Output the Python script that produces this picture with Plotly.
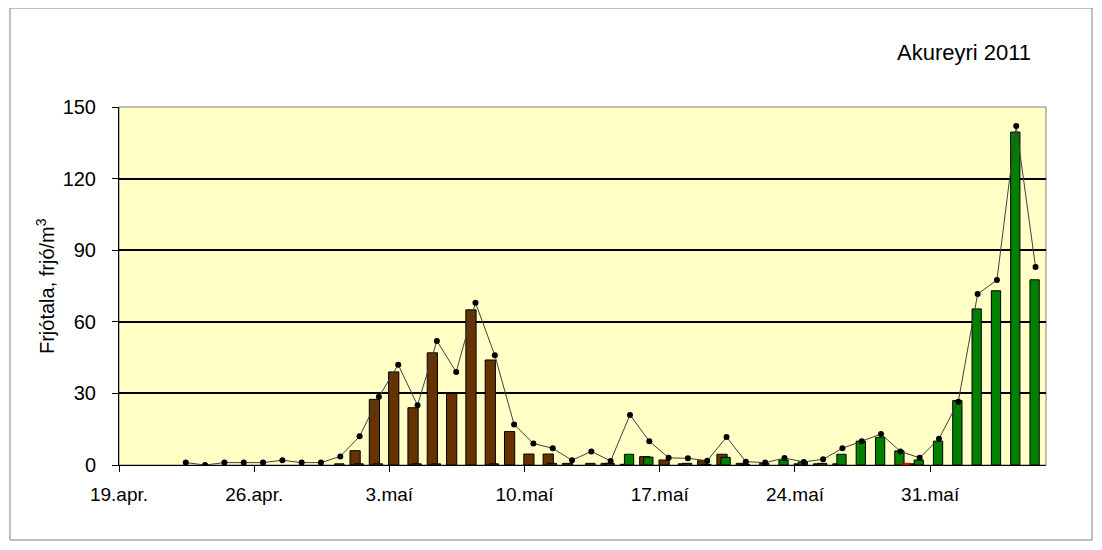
import pandas as pd
import plotly.graph_objects as go

# Days from 19 April to 5 June 2011
dates = pd.date_range("2011-04-19", "2011-06-05", freq="D")

# Birki (brown bars)
birch = [None] * 12 + [
         6, 27.5, 39, 24, 47, 30, 65, 44, 14, 4.6, 4.6, 0.7,
         None, 0.7, 0.3, 3.5, 2.1, 0.5, 1.8, 4.5, 0.7, None, None, 0.5,
         0.5, 0.5, None, None, None, 0.5, None, None, None, None, None, None]
# Grös (green bars)
grass = [None] * 11 + [0.5,
         0.5, 0.5, None, 0.5, 0.5, None, None, 0.5, None, None, 0.7, None,
         0.7, 0.7, 4.5, 3.3, None, 0.7, 0.3, 3.2, 0.3, 0.7, 2.1, 1.3,
         0.7, 4.5, 10, 11.6, 5.9, 2.1, 10, 27, 65.4, 73, 139.5, 77.6]
# Other (red bars)
other = [None] * 40 + [0.8] + [None] * 7
# Total (line)
total = [None, None, None, 1, 0, 1, 1, 1, 2, 1, 1, 3.6,
         12, 28.6, 42, 25, 52, 39, 68, 46, 17, 9, 7, 2,
         5.7, 1.7, 21, 10, 3, 2.8, 1.8, 11.7, 1.4, 1, 2.9, 1.3,
         2.4, 7, 10, 13, 5.7, 3, 11, 26.5, 71.6, 77.5, 142, 83]

tick_dates = ["2011-04-19", "2011-04-26", "2011-05-03", "2011-05-10",
              "2011-05-17", "2011-05-24", "2011-05-31"]
tick_labels = ["19.apr.", "26.apr.", "3.maí", "10.maí", "17.maí", "24.maí", "31.maí"]
y_ticks = [0, 30, 60, 90, 120, 150]

DAY = 86400000
FONT = "Liberation Sans, Arial, sans-serif"

fig = go.Figure()
fig.add_trace(go.Bar(x=dates, y=birch, offset=-0.04 * DAY, width=0.53 * DAY,
                     marker=dict(color="#663300", line=dict(color="black", width=1)),
                     name="Birki"))
fig.add_trace(go.Bar(x=dates, y=grass, offset=0.17 * DAY, width=0.48 * DAY,
                     marker=dict(color="#008000", line=dict(color="black", width=1)),
                     name="Grös"))
fig.add_trace(go.Bar(x=dates, y=other, offset=0.53 * DAY, width=0.43 * DAY,
                     marker=dict(color="#FF0000", line=dict(color="#800000", width=0.5)),
                     name="Annað"))
fig.add_trace(go.Scatter(x=dates + pd.Timedelta(hours=11), y=total, mode="lines+markers",
                         line=dict(color="#404040", width=1),
                         marker=dict(color="black", size=6),
                         connectgaps=False, name="Alls"))

# page body has an 8px margin, so the figure is drawn from (8, 8)
fig.update_layout(
    width=1094, height=542,
    margin=dict(l=111, r=56, t=99, b=85),
    paper_bgcolor="white",
    plot_bgcolor="#FFFFC6",
    showlegend=False,
    barmode="overlay",
    font=dict(family=FONT, color="black", size=19),
    xaxis=dict(type="date", range=["2011-04-19", "2011-06-06"],
               tickvals=tick_dates, ticktext=tick_labels,
               showgrid=False, zeroline=False,
               showline=True, linecolor="black", linewidth=1,
               ticks="outside", ticklen=6, tickcolor="black",
               ticklabelstandoff=6,
               tickfont=dict(size=19, family=FONT)),
    yaxis=dict(range=[0, 150], tickvals=y_ticks,
               showgrid=True, gridcolor="black", gridwidth=1.5,
               zeroline=False, showline=True, linecolor="black", linewidth=1,
               ticks="outside", ticklen=6, tickcolor="black",
               ticklabelstandoff=12,
               tickfont=dict(size=20, family=FONT)),
    shapes=[
        dict(type="rect", xref="paper", yref="paper", x0=0, x1=1, y0=0, y1=1,
             line=dict(color="#808080", width=1), layer="below"),
        dict(type="rect", xref="paper", yref="paper",
             x0=-0.1176, x1=1.0496, y0=-0.2095, y1=1.2765,
             line=dict(color="#808080", width=1)),
    ],
    annotations=[
        dict(text="Akureyri 2011", xref="paper", yref="paper",
             x=0.9115, y=1.1536, showarrow=False, xanchor="center", yanchor="middle",
             font=dict(size=22, family=FONT)),
        dict(text="Frjótala, frjó/m<sup>3</sup>", xref="paper", yref="paper",
             x=-0.0798, y=0.5, showarrow=False, textangle=-90,
             xanchor="center", yanchor="middle",
             font=dict(size=20, family=FONT)),
    ],
)

fig.write_html("out.html")
